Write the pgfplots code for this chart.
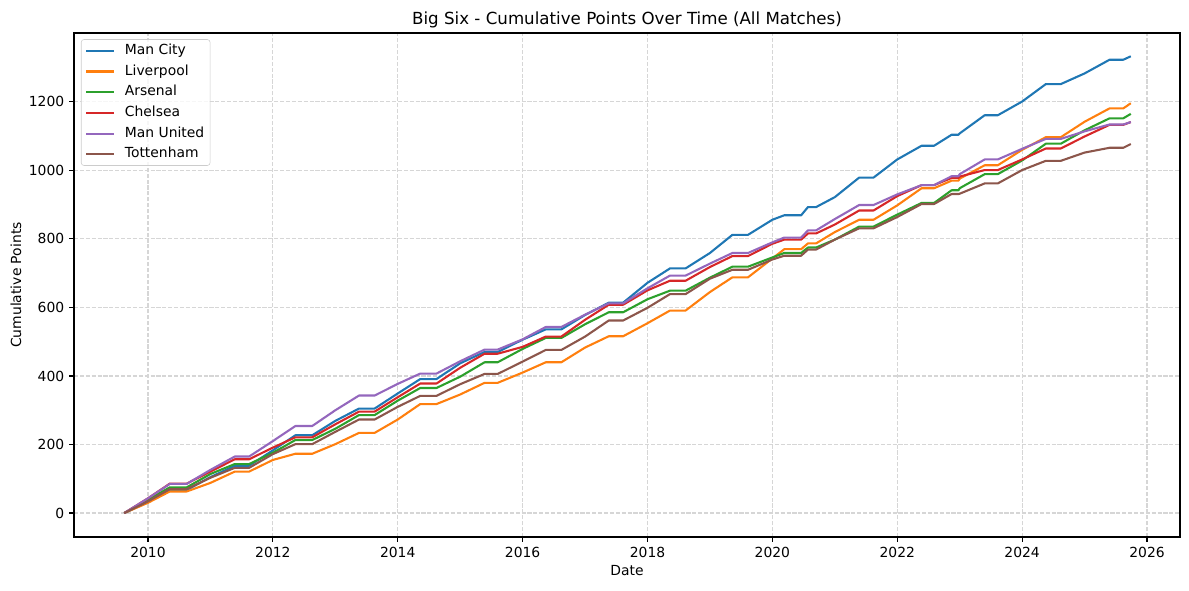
\documentclass[border=0pt]{standalone}
\usepackage{fontspec}
\setmainfont{DejaVu Sans}
\usepackage{pgfplots}
\pgfplotsset{compat=1.18}
\definecolor{cCity}{HTML}{1F77B4}
\definecolor{cLiv}{HTML}{FF7F0E}
\definecolor{cArs}{HTML}{2CA02C}
\definecolor{cChe}{HTML}{D62728}
\definecolor{cMU}{HTML}{9467BD}
\definecolor{cTot}{HTML}{8C564B}
\begin{document}
\begin{tikzpicture}
\begin{axis}[
  scale only axis,
  width=796.3pt, height=362.9pt,
  xmin=2008.815, xmax=2026.528,
  ymin=-70, ymax=1401,
  xtick={2010,2012,...,2026},
  ytick={0,200,...,1200},
  /pgf/number format/1000 sep={},
  /pgf/number format/assume math mode=true,
  tick label style={font=\fontsize{10}{12}\selectfont},
  xtick pos=bottom, ytick pos=left,
  tick align=outside,
  major tick length=3.5pt,
  every tick/.style={black, line width=0.8pt},
  axis line style={line width=0.8pt},
  grid=major,
  grid style={dash pattern=on 2.96pt off 1.28pt, gray!32, line width=0.8pt},
  every axis title shift=0pt,
  title={Big Six - Cumulative Points Over Time (All Matches)},
  title style={font=\fontsize{12}{14}\selectfont, at={(axis description cs:0.5,1.0165)}, anchor=base},
  xlabel={Date},
  xlabel style={font=\fontsize{10}{12}\selectfont, at={(axis description cs:0.5,-0.0772)}, anchor=base},
  ylabel={Cumulative Points},
  ylabel style={font=\fontsize{10}{12}\selectfont, at={(axis description cs:-0.0477,0.5)}, anchor=base},
  legend style={at={(axis description cs:0,1)}, anchor=north west, xshift=5pt, yshift=-4.5pt,
    draw=gray!40, rounded corners=2pt, fill=white, fill opacity=0.8, text opacity=1,
    font=\fontsize{10}{12}\selectfont, row sep=2.7pt,
    nodes={inner sep=1.2pt, text height=7.6pt, text depth=2.2pt}},
  legend cell align=left,
  legend image code/.code={\path[draw=none,fill=none] (0pt,0pt) -- (26.5pt,0pt); \draw[#1] (0pt,0pt) -- (20pt,0pt);},
  every axis plot/.append style={line width=1.5pt, line join=round, no markers},
]
\addplot[cCity] coordinates {
(2009.62,0) (2010.00,32) (2010.35,67) (2010.62,67) (2011.00,105) (2011.39,138)
(2011.62,138) (2012.00,183) (2012.36,227) (2012.63,227) (2013.00,269) (2013.38,305)
(2013.63,305) (2014.00,349) (2014.36,391) (2014.62,391) (2015.00,437) (2015.39,470)
(2015.60,470) (2016.00,506) (2016.37,536) (2016.62,536) (2017.00,578) (2017.38,614)
(2017.61,614) (2018.00,672) (2018.36,714) (2018.61,714) (2019.00,759) (2019.36,812)
(2019.61,812) (2020.00,856) (2020.19,869) (2020.46,869) (2020.57,893) (2020.70,893)
(2021.00,922) (2021.39,979) (2021.62,979) (2022.00,1032) (2022.39,1072) (2022.59,1072)
(2022.87,1104) (2022.98,1104) (2023.00,1108) (2023.40,1161) (2023.61,1161) (2024.00,1201)
(2024.38,1252) (2024.62,1252) (2025.00,1283) (2025.40,1323) (2025.62,1323) (2025.74,1333)
};
\addlegendentry{Man City}
\addplot[cLiv] coordinates {
(2009.62,0) (2010.00,30) (2010.35,63) (2010.62,63) (2011.00,88) (2011.39,121)
(2011.62,121) (2012.00,155) (2012.36,173) (2012.63,173) (2013.00,201) (2013.38,234)
(2013.63,234) (2014.00,273) (2014.36,318) (2014.62,318) (2015.00,346) (2015.39,380)
(2015.60,380) (2016.00,410) (2016.37,440) (2016.62,440) (2017.00,483) (2017.38,516)
(2017.61,516) (2018.00,554) (2018.36,591) (2018.61,591) (2019.00,645) (2019.36,688)
(2019.61,688) (2020.00,743) (2020.19,770) (2020.46,770) (2020.57,787) (2020.70,787)
(2021.00,820) (2021.39,856) (2021.62,856) (2022.00,898) (2022.39,948) (2022.59,948)
(2022.87,970) (2022.98,970) (2023.00,976) (2023.40,1015) (2023.61,1015) (2024.00,1060)
(2024.38,1097) (2024.62,1097) (2025.00,1142) (2025.40,1181) (2025.62,1181) (2025.74,1196)
};
\addlegendentry{Liverpool}
\addplot[cArs] coordinates {
(2009.62,0) (2010.00,39) (2010.35,75) (2010.62,75) (2011.00,114) (2011.39,143)
(2011.62,143) (2012.00,176) (2012.36,213) (2012.63,213) (2013.00,246) (2013.38,286)
(2013.63,286) (2014.00,328) (2014.36,365) (2014.62,365) (2015.00,398) (2015.39,440)
(2015.60,440) (2016.00,479) (2016.37,511) (2016.62,511) (2017.00,551) (2017.38,586)
(2017.61,586) (2018.00,624) (2018.36,649) (2018.61,649) (2019.00,687) (2019.36,719)
(2019.61,719) (2020.00,746) (2020.19,759) (2020.46,759) (2020.57,775) (2020.70,775)
(2021.00,798) (2021.39,836) (2021.62,836) (2022.00,871) (2022.39,905) (2022.59,905)
(2022.87,942) (2022.98,942) (2023.00,948) (2023.40,989) (2023.61,989) (2024.00,1029)
(2024.38,1078) (2024.62,1078) (2025.00,1117) (2025.40,1152) (2025.62,1152) (2025.74,1165)
};
\addlegendentry{Arsenal}
\addplot[cChe] coordinates {
(2009.62,0) (2010.00,43) (2010.35,86) (2010.62,86) (2011.00,121) (2011.39,157)
(2011.62,157) (2012.00,191) (2012.36,221) (2012.63,221) (2013.00,259) (2013.38,296)
(2013.63,296) (2014.00,338) (2014.36,378) (2014.62,378) (2015.00,424) (2015.39,465)
(2015.60,465) (2016.00,485) (2016.37,515) (2016.62,515) (2017.00,564) (2017.38,608)
(2017.61,608) (2018.00,650) (2018.36,678) (2018.61,678) (2019.00,718) (2019.36,750)
(2019.61,750) (2020.00,786) (2020.19,798) (2020.46,798) (2020.57,816) (2020.70,816)
(2021.00,842) (2021.39,883) (2021.62,883) (2022.00,925) (2022.39,957) (2022.59,957)
(2022.87,978) (2022.98,978) (2023.00,982) (2023.40,1001) (2023.61,1001) (2024.00,1032)
(2024.38,1064) (2024.62,1064) (2025.00,1099) (2025.40,1133) (2025.62,1133) (2025.74,1141)
};
\addlegendentry{Chelsea}
\addplot[cMU] coordinates {
(2009.62,0) (2010.00,43) (2010.35,85) (2010.62,85) (2011.00,126) (2011.39,165)
(2011.62,165) (2012.00,210) (2012.36,254) (2012.63,254) (2013.00,300) (2013.38,343)
(2013.63,343) (2014.00,377) (2014.36,407) (2014.62,407) (2015.00,443) (2015.39,477)
(2015.60,477) (2016.00,507) (2016.37,543) (2016.62,543) (2017.00,579) (2017.38,612)
(2017.61,612) (2018.00,656) (2018.36,693) (2018.61,693) (2019.00,728) (2019.36,759)
(2019.61,759) (2020.00,790) (2020.19,804) (2020.46,804) (2020.57,825) (2020.70,825)
(2021.00,858) (2021.39,899) (2021.62,899) (2022.00,930) (2022.39,957) (2022.59,957)
(2022.87,983) (2022.98,983) (2023.00,989) (2023.40,1032) (2023.61,1032) (2024.00,1063)
(2024.38,1092) (2024.62,1092) (2025.00,1114) (2025.40,1134) (2025.62,1134) (2025.74,1141)
};
\addlegendentry{Man United}
\addplot[cTot] coordinates {
(2009.62,0) (2010.00,34) (2010.35,70) (2010.62,70) (2011.00,103) (2011.39,132)
(2011.62,132) (2012.00,172) (2012.36,201) (2012.63,201) (2013.00,237) (2013.38,273)
(2013.63,273) (2014.00,310) (2014.36,342) (2014.62,342) (2015.00,376) (2015.39,406)
(2015.60,406) (2016.00,442) (2016.37,476) (2016.62,476) (2017.00,515) (2017.38,562)
(2017.61,562) (2018.00,599) (2018.36,639) (2018.61,639) (2019.00,684) (2019.36,710)
(2019.61,710) (2020.00,740) (2020.19,751) (2020.46,751) (2020.57,769) (2020.70,769)
(2021.00,798) (2021.39,831) (2021.62,831) (2022.00,864) (2022.39,902) (2022.59,902)
(2022.87,931) (2022.98,931) (2023.00,932) (2023.40,962) (2023.61,962) (2024.00,1001)
(2024.38,1028) (2024.62,1028) (2025.00,1052) (2025.40,1066) (2025.62,1066) (2025.74,1077)
};
\addlegendentry{Tottenham}
\end{axis}
\pgfresetboundingbox
\path ([xshift=-53.28pt,yshift=-38.16pt]current axis.south west) rectangle ([xshift=6.48pt,yshift=23.76pt]current axis.north east);
\end{tikzpicture}
\end{document}
